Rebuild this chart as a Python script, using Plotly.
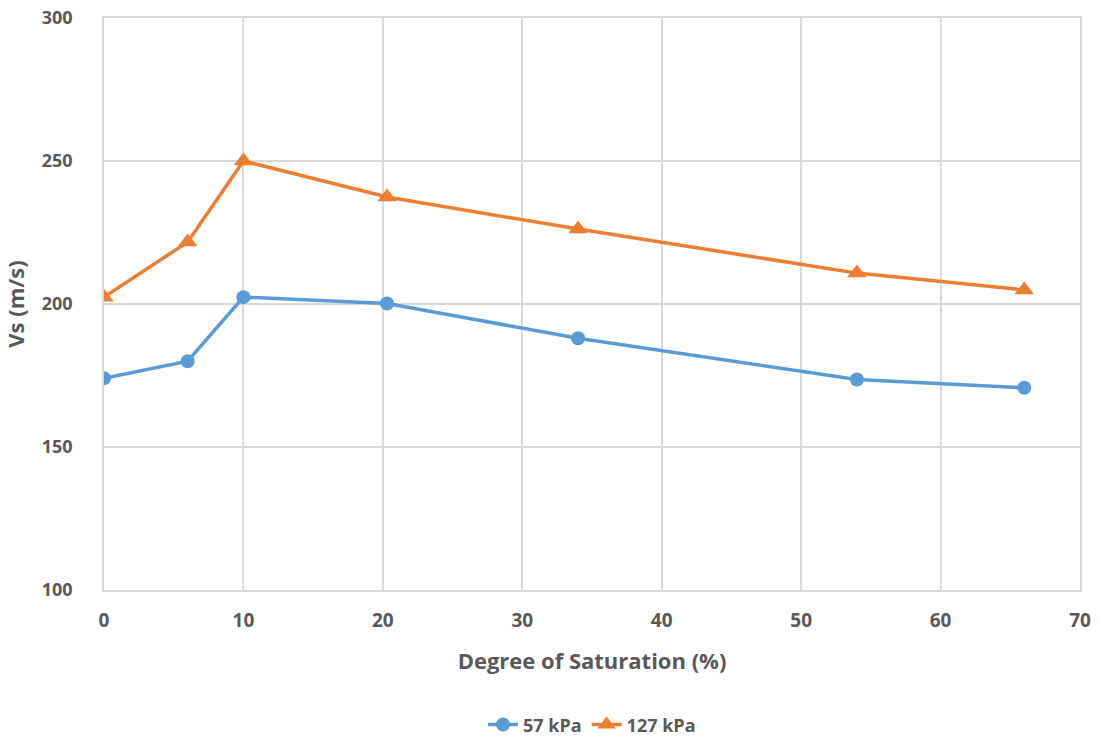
import plotly.graph_objects as go

saturation = [0, 6, 10, 20.3, 34, 54, 66]
vs_57 = [174, 180, 202.4, 200.2, 188, 173.6, 170.7]
vs_127 = [202.4, 221.7, 250, 237.4, 226.2, 210.8, 204.9]

font_fam = "'Open Sans', Lato, sans-serif"
txt = "#595959"

fig = go.Figure()
fig.add_trace(go.Scatter(x=saturation, y=vs_57, mode="lines+markers", name="57 kPa",
                         line=dict(color="#5b9bd5", width=3.5),
                         marker=dict(symbol="circle", size=14, color="#5b9bd5")))
fig.add_trace(go.Scatter(x=saturation, y=vs_127, mode="lines+markers", name="127 kPa",
                         line=dict(color="#ed7d31", width=3.5),
                         marker=dict(symbol="triangle-up", size=17, color="#ed7d31")))

fig.update_layout(
    width=1101, height=742,
    margin=dict(l=104, r=21, t=18, b=152, autoexpand=False),
    paper_bgcolor="white", plot_bgcolor="white",
    font=dict(family=font_fam, size=19, color=txt, weight="bold"),
    showlegend=True,
    legend=dict(orientation="h", x=0.5, xanchor="center", y=-0.268, yanchor="bottom",
                borderwidth=0, font=dict(size=18, color=txt, weight="bold")),
    xaxis=dict(range=[0, 70], dtick=10, showgrid=True, gridcolor="#d9d9d9", gridwidth=1.5,
               zeroline=False, showline=True, linecolor="#d9d9d9", linewidth=1.5, mirror=True,
               ticks="", automargin=False, ticklabelstandoff=12,
               tickfont=dict(size=19, color=txt, weight="bold"),
               title=dict(text="Degree of Saturation (%)", font=dict(size=22, color=txt, weight="bold"), standoff=22)),
    yaxis=dict(range=[100, 300], dtick=50, showgrid=True, gridcolor="#d9d9d9", gridwidth=1.5,
               zeroline=False, showline=True, linecolor="#d9d9d9", linewidth=1.5, mirror=True,
               ticks="", automargin=False, ticklabelstandoff=26,
               tickfont=dict(size=18, color=txt, weight="bold"),
               title=dict(text="Vs (m/s)", font=dict(size=22, color=txt, weight="bold"), standoff=14)),
)

fig.write_html("out.html", config={"displayModeBar": False},
               post_script="document.body.style.margin='0';document.body.style.overflow='hidden';")
